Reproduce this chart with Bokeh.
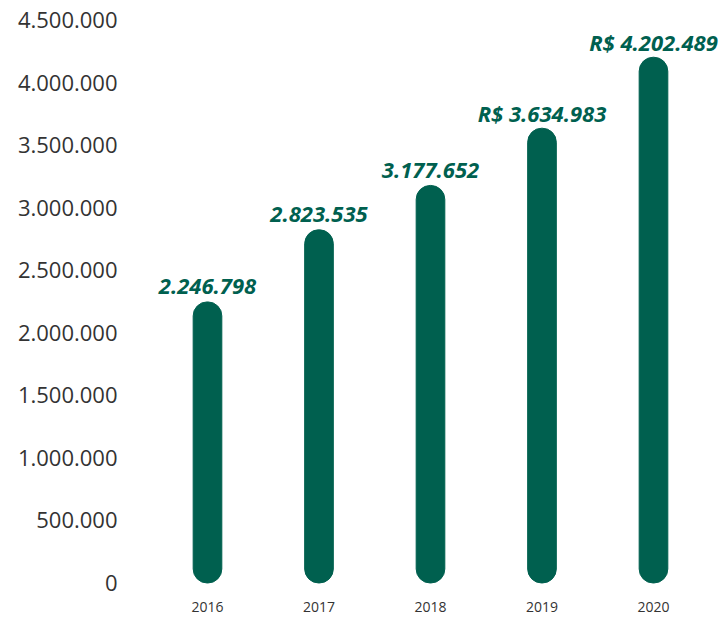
from bokeh.plotting import figure
from bokeh.models import Range1d, FixedTicker, ColumnDataSource
from bokeh.core.properties import value
from bokeh.embed import file_html
from bokeh.resources import INLINE

years = [2016, 2017, 2018, 2019, 2020]
values = [2246798, 2823535, 3177652, 3634983, 4202489]
value_labels = ["2.246.798", "2.823.535", "3.177.652", "R$ 3.634.983", "R$ 4.202.489"]
y_ticks = [0, 500000, 1000000, 1500000, 2000000, 2500000, 3000000, 3500000, 4000000, 4500000]
y_tick_labels = ["0", "500.000", "1.000.000", "1.500.000", "2.000.000", "2.500.000",
                 "3.000.000", "3.500.000", "4.000.000", "4.500.000"]
year_labels = ["2016", "2017", "2018", "2019", "2020"]

GREEN = "#00604f"
TXT = "#333333"

src = ColumnDataSource(dict(x=years, top=values, lab=value_labels))

p = figure(width=719, height=614, output_backend="svg", toolbar_location=None,
           x_range=Range1d(2015.2646, 2020.592), y_range=Range1d(-116000, 4656000),
           min_border=0, min_border_left=125, min_border_right=0, min_border_top=0,
           min_border_bottom=0)
p.outline_line_color = None
p.grid.visible = False
p.background_fill_color = "white"

p.vbar(x="x", top="top", bottom=0, width=0.257, source=src, color=GREEN,
       border_radius=14)
p.text(x="x", y="top", text="lab", source=src, text_align="center",
       text_baseline="alphabetic", y_offset=-15, text_color=GREEN,
       text_font=value("Open Sans"), text_font_style="bold italic",
       text_font_size="22px")

p.yaxis.ticker = FixedTicker(ticks=y_ticks)
p.yaxis.major_label_overrides = {t: s for t, s in zip(y_ticks, y_tick_labels)}
p.xaxis.ticker = FixedTicker(ticks=years)
p.xaxis.major_label_overrides = {t: s for t, s in zip(years, year_labels)}

for ax in (p.xaxis, p.yaxis):
    ax.axis_line_color = None
    ax.major_tick_line_color = None
    ax.minor_tick_line_color = None
    ax.major_tick_out = 0
    ax.major_tick_in = 0
    ax.major_label_text_color = TXT
    ax.major_label_text_font = "Open Sans"
p.yaxis.major_label_text_font_size = "22px"
p.yaxis.major_label_standoff = 8
p.xaxis.major_label_text_font_size = "14px"
p.xaxis.major_label_standoff = 4

open("out.html", "w").write(file_html(p, INLINE))
